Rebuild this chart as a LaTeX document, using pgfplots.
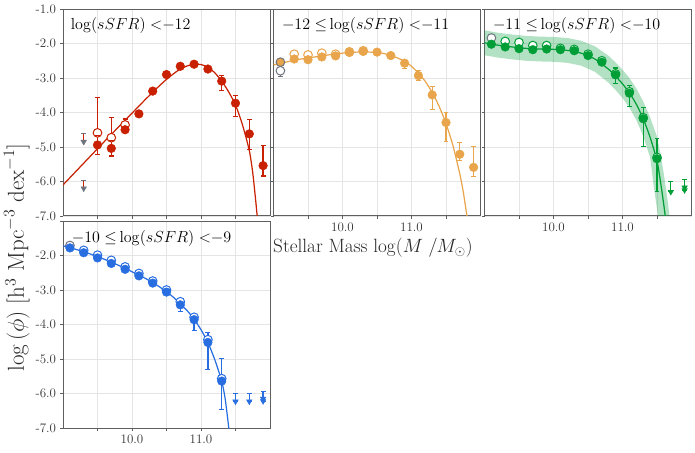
\documentclass[border=0pt]{standalone}
\usepackage{pgfplots}
\usepackage{pgfplotstable}
\pgfplotsset{compat=1.18}

\definecolor{redc}{RGB}{200,32,0}
\definecolor{orac}{RGB}{232,165,75}
\definecolor{grnc}{RGB}{0,158,55}
\definecolor{bluc}{RGB}{40,110,225}
\definecolor{gryc}{RGB}{110,115,125}
\definecolor{framec}{RGB}{95,95,95}

% ---------------- data: points ----------------
\pgfplotstableread[row sep=\\]{
x y\\
9.5 -4.94\\ 9.7 -5.04\\ 9.9 -4.50\\ 10.1 -4.04\\ 10.3 -3.38\\ 10.5 -2.90\\ 10.7 -2.66\\
10.9 -2.60\\ 11.1 -2.74\\ 11.3 -3.09\\ 11.5 -3.73\\ 11.7 -4.62\\ 11.9 -5.54\\
}\redF
\pgfplotstableread[row sep=\\]{
x y\\
9.5 -4.59\\ 9.7 -4.73\\ 9.9 -4.36\\
}\redO
% error bars: low and high end of each bar, bars separated by nan
\pgfplotstableread[row sep=\\]{
x y\\
9.5 -4.89\\ 9.5 -3.57\\ 9.5 nan\\
9.7 -4.98\\ 9.7 -4.15\\ 9.7 nan\\
9.9 -4.46\\ 9.9 -4.19\\ 9.9 nan\\
9.5 -5.21\\ 9.5 -4.67\\ 9.5 nan\\
9.7 -5.26\\ 9.7 -4.82\\ 9.7 nan\\
9.9 -4.58\\ 9.9 -4.42\\ 9.9 nan\\
11.3 -3.36\\ 11.3 -2.94\\ 11.3 nan\\
11.5 -4.12\\ 11.5 -3.51\\ 11.5 nan\\
11.7 -5.07\\ 11.7 -4.21\\ 11.7 nan\\
11.9 -5.84\\ 11.9 -4.96\\
}\redE
\pgfplotstableread[row sep=\\]{
x y\\
9.3 -4.85\\ 9.3 -4.60\\ 9.3 nan\\ 9.3 -6.20\\ 9.3 -5.98\\
}\redLs
\pgfplotstableread[row sep=\\]{
x y\\
9.3 -4.60\\ 9.3 -5.98\\
}\redLc
\pgfplotstableread[row sep=\\]{
x y\\
9.3 -4.85\\ 9.3 -6.20\\
}\redL
\pgfplotstableread[row sep=\\]{
x y\\
9.0 -6.10\\ 9.2 -5.68\\ 9.4 -5.26\\ 9.6 -4.84\\ 9.8 -4.43\\ 10.0 -4.02\\
10.2 -3.61\\ 10.4 -3.22\\ 10.5 -3.04\\ 10.6 -2.88\\ 10.7 -2.74\\ 10.8 -2.65\\
10.9 -2.60\\ 11.0 -2.61\\ 11.1 -2.69\\ 11.2 -2.85\\ 11.3 -3.09\\ 11.4 -3.40\\
11.5 -3.78\\ 11.6 -4.35\\ 11.7 -5.10\\ 11.75 -5.75\\ 11.8 -6.70\\ 11.85 -7.80\\
}\redC

\pgfplotstableread[row sep=\\]{
x y\\
9.3 -2.45\\ 9.5 -2.47\\ 9.7 -2.39\\ 9.9 -2.36\\ 10.1 -2.26\\ 10.3 -2.23\\ 10.5 -2.25\\
10.7 -2.35\\ 10.9 -2.57\\ 11.1 -2.93\\ 11.3 -3.49\\ 11.5 -4.29\\ 11.7 -5.21\\ 11.9 -5.59\\
}\oraF
\pgfplotstableread[row sep=\\]{
x y\\
9.3 -2.31\\ 9.5 -2.33\\ 9.7 -2.28\\ 9.9 -2.31\\ 10.1 -2.24\\ 10.3 -2.21\\
}\oraO
\pgfplotstableread[row sep=\\]{
x y\\
10.9 -2.72\\ 10.9 -2.50\\ 10.9 nan\\
11.1 -3.08\\ 11.1 -2.78\\ 11.1 nan\\
11.3 -3.92\\ 11.3 -3.25\\ 11.3 nan\\
11.5 -4.84\\ 11.5 -4.00\\ 11.5 nan\\
11.7 -5.38\\ 11.7 -4.87\\ 11.7 nan\\
11.9 -5.86\\ 11.9 -4.99\\
}\oraE
\pgfplotstableread[row sep=\\]{
x y\\
9.1 -2.96\\ 9.1 -2.79\\
}\oraGE
\pgfplotstableread[row sep=\\]{
x y\\
9.0 -2.62\\ 9.2 -2.53\\ 9.4 -2.45\\ 9.6 -2.39\\ 9.8 -2.33\\ 10.0 -2.28\\
10.2 -2.25\\ 10.4 -2.25\\ 10.6 -2.29\\ 10.8 -2.42\\ 10.9 -2.52\\ 11.0 -2.66\\
11.1 -2.86\\ 11.2 -3.10\\ 11.3 -3.42\\ 11.4 -3.82\\ 11.5 -4.32\\ 11.6 -4.95\\
11.7 -5.78\\ 11.75 -6.30\\ 11.8 -6.95\\ 11.85 -7.60\\
}\oraC

\pgfplotstableread[row sep=\\]{
x y\\
9.1 -2.02\\ 9.3 -2.10\\ 9.5 -2.15\\ 9.7 -2.18\\ 9.9 -2.16\\ 10.1 -2.18\\ 10.3 -2.21\\
10.5 -2.35\\ 10.7 -2.54\\ 10.9 -2.91\\ 11.1 -3.44\\ 11.3 -4.18\\ 11.5 -5.34\\
}\grnF
\pgfplotstableread[row sep=\\]{
x y\\
9.3 -1.94\\ 9.5 -1.97\\ 9.7 -2.06\\ 9.9 -2.06\\ 10.1 -2.14\\ 10.3 -2.17\\
10.5 -2.31\\ 10.7 -2.50\\ 10.9 -2.88\\ 11.1 -3.40\\ 11.3 -4.15\\ 11.5 -5.30\\
}\grnO
\pgfplotstableread[row sep=\\]{
x y\\
10.7 -2.62\\ 10.7 -2.46\\ 10.7 nan\\
10.9 -3.17\\ 10.9 -2.71\\ 10.9 nan\\
11.1 -3.83\\ 11.1 -3.23\\ 11.1 nan\\
11.3 -4.99\\ 11.3 -3.85\\ 11.3 nan\\
11.5 -6.28\\ 11.5 -4.75\\ 11.5 nan\\
11.7 -6.30\\ 11.7 -6.00\\ 11.7 nan\\
11.9 -6.25\\ 11.9 -5.93\\
}\grnE
\pgfplotstableread[row sep=\\]{
x y\\
11.7 -6.30\\ 11.9 -6.25\\ 11.9 -6.17\\
}\grnL
\pgfplotstableread[row sep=\\]{
x y\\
9.0 -1.98\\ 9.2 -2.05\\ 9.4 -2.10\\ 9.6 -2.14\\ 9.8 -2.16\\ 10.0 -2.17\\
10.2 -2.20\\ 10.4 -2.28\\ 10.6 -2.45\\ 10.8 -2.75\\ 10.9 -2.95\\ 11.0 -3.17\\
11.1 -3.43\\ 11.2 -3.76\\ 11.3 -4.18\\ 11.4 -4.72\\ 11.5 -5.40\\ 11.55 -6.00\\
11.6 -6.70\\ 11.65 -7.50\\ 11.7 -8.40\\
}\grnC
% band outline: upper edge left to right, then lower edge right to left
\pgfplotstableread[row sep=\\]{
x y\\
9.0 -1.62\\ 9.2 -1.69\\ 9.4 -1.74\\ 9.6 -1.78\\ 9.8 -1.80\\ 10.0 -1.81\\
10.2 -1.84\\ 10.4 -1.92\\ 10.6 -2.08\\ 10.8 -2.36\\ 10.9 -2.55\\ 11.0 -2.76\\
11.1 -3.00\\ 11.2 -3.30\\ 11.3 -3.68\\ 11.4 -4.14\\ 11.5 -4.70\\ 11.55 -5.20\\
11.6 -5.80\\ 11.65 -6.50\\ 11.7 -7.30\\ 11.75 -8.20\\
11.6 -8.20\\ 11.55 -7.60\\ 11.5 -6.80\\ 11.45 -6.10\\ 11.4 -5.30\\ 11.3 -4.68\\
11.2 -4.22\\ 11.1 -3.86\\ 11.0 -3.58\\ 10.9 -3.35\\ 10.8 -3.14\\ 10.6 -2.82\\
10.4 -2.64\\ 10.2 -2.56\\ 10.0 -2.53\\ 9.8 -2.52\\ 9.6 -2.50\\ 9.4 -2.46\\
9.2 -2.41\\ 9.0 -2.34\\
}\grnB

\pgfplotstableread[row sep=\\]{
x y\\
9.1 -1.78\\ 9.3 -1.92\\ 9.5 -2.07\\ 9.7 -2.23\\ 9.9 -2.40\\ 10.1 -2.59\\
10.3 -2.80\\ 10.5 -3.06\\ 10.7 -3.43\\ 10.9 -3.86\\ 11.1 -4.52\\ 11.3 -5.64\\
}\bluF
\pgfplotstableread[row sep=\\]{
x y\\
9.3 -1.85\\ 9.5 -1.99\\ 9.7 -2.14\\ 9.9 -2.33\\ 10.1 -2.52\\ 10.3 -2.74\\
10.5 -3.00\\ 10.7 -3.34\\ 10.9 -3.79\\ 11.1 -4.44\\ 11.3 -5.57\\
}\bluO
\pgfplotstableread[row sep=\\]{
x y\\
10.7 -3.62\\ 10.7 -3.38\\ 10.7 nan\\
10.9 -4.17\\ 10.9 -3.81\\ 10.9 nan\\
11.1 -5.30\\ 11.1 -4.22\\ 11.1 nan\\
11.3 -6.47\\ 11.3 -4.99\\ 11.3 nan\\
11.5 -6.23\\ 11.5 -5.99\\ 11.5 nan\\
11.7 -6.23\\ 11.7 -5.99\\ 11.7 nan\\
11.9 -6.22\\ 11.9 -5.95\\
}\bluE
\pgfplotstableread[row sep=\\]{
x y\\
11.5 -6.23\\ 11.7 -6.23\\ 11.9 -6.22\\ 11.9 -6.15\\
}\bluL
\pgfplotstableread[row sep=\\]{
x y\\
9.0 -1.72\\ 9.2 -1.83\\ 9.4 -1.96\\ 9.6 -2.11\\ 9.8 -2.28\\ 10.0 -2.47\\
10.2 -2.67\\ 10.4 -2.91\\ 10.6 -3.21\\ 10.8 -3.60\\ 10.9 -3.85\\ 11.0 -4.15\\
11.1 -4.52\\ 11.2 -5.02\\ 11.3 -5.64\\ 11.35 -6.15\\ 11.4 -6.95\\ 11.45 -7.80\\
}\bluC

\pgfplotsset{
  panel/.style={
    scale only axis, width=186.3pt, height=186.3pt,
    anchor=south west,
    xmin=9, xmax=12, ymin=-7, ymax=-1,
    xtick={9.5,10,10.5,11,11.5},
    xticklabels={,10.0,,11.0,},
    ytick={-7,-6,-5,-4,-3,-2,-1},
    yticklabels={-7.0,-6.0,-5.0,-4.0,-3.0,-2.0,-1.0},
    grid=major,
    grid style={color=black!10, line width=0.75pt},
    axis line style={draw=framec, line width=0.9pt},
    tick align=outside, major tick length=2.7pt,
    tick style={color=framec, line width=0.7pt},
    xtick pos=bottom, ytick pos=left,
    tick label style={font=\fontsize{11.7}{13}\selectfont, text=black!80},
    unbounded coords=jump,
  },
  fmark/.style={only marks, mark=*, mark size=3.9pt, color=#1,
     mark options={draw=#1, fill=#1}},
  omark/.style={only marks, mark=*, mark size=3.9pt, color=#1,
     mark options={draw=#1, fill=white, line width=0.9pt}},
  lmark/.style={only marks, mark=triangle*, mark size=2.9pt, color=#1,
     mark options={rotate=180, draw=#1, fill=#1}},
  ebar/.style={color=#1, draw=#1, line width=1.1pt, mark=-, mark size=2.2pt,
     mark options={solid, line width=1pt, draw=#1}},
  curve/.style={no marks, smooth, tension=0.4, line width=1.1pt, color=#1, draw=#1},
}
\tikzset{ttl/.style={anchor=west, font=\fontsize{14.4}{16}\selectfont, inner sep=0pt}}

\begin{document}
\begin{tikzpicture}
\useasboundingbox (0pt,0pt) rectangle (625.5pt,406.8pt);

% ---------- panel 1 ----------
\begin{axis}[panel, at={(56.7pt,212.4pt)}, xticklabels={}]
\addplot[curve=redc] table[x=x,y=y] {\redC};
\addplot[omark=redc] table[x=x,y=y] {\redO};
\addplot[ebar=redc] table[x=x,y=y] {\redE};
\addplot[fmark=redc] table[x=x,y=y] {\redF};
\addplot[color=redc, draw=redc, line width=1.1pt, no marks] table[x=x,y=y] {\redLs};
\addplot[only marks, mark=-, mark size=2.2pt, color=gryc, mark options={line width=1pt, draw=gryc}] table[x=x,y=y] {\redLc};
\addplot[lmark=gryc] table[x=x,y=y] {\redL};
\node[ttl] at (rel axis cs:0.037,0.92) {$\log(sSFR)\;{<}{-12}$};
\end{axis}

% ---------- panel 2 ----------
\begin{axis}[panel, at={(246.15pt,212.4pt)}, yticklabels={}]
\addplot[curve=orac] table[x=x,y=y] {\oraC};
\addplot[omark=orac] table[x=x,y=y] {\oraO};
\addplot[ebar=gryc] table[x=x,y=y] {\oraGE};
\addplot[omark=gryc] coordinates {(9.1,-2.79)};
\addplot[ebar=orac] table[x=x,y=y] {\oraE};
\addplot[fmark=orac] table[x=x,y=y] {\oraF};
\addplot[only marks, mark=*, mark size=3.9pt, mark options={draw=gryc, fill=orac, line width=0.9pt}] coordinates {(9.1,-2.54)};
\node[ttl] at (rel axis cs:0.04,0.92) {$-12\;{\leq}\log(sSFR)\;{<}{-11}$};
\end{axis}

% ---------- panel 3 ----------
\begin{axis}[panel, at={(436.05pt,212.4pt)}, yticklabels={}]
\addplot[fill=grnc, fill opacity=0.3, draw=none] table[x=x,y=y] {\grnB};
\addplot[curve=grnc] table[x=x,y=y] {\grnC};
\addplot[omark=gryc] coordinates {(9.1,-1.84)};
\addplot[omark=grnc] table[x=x,y=y] {\grnO};
\addplot[ebar=grnc] table[x=x,y=y] {\grnE};
\addplot[fmark=grnc] table[x=x,y=y] {\grnF};
\addplot[lmark=grnc] table[x=x,y=y] {\grnL};
\node[ttl] at (rel axis cs:0.04,0.92) {$-11\;{\leq}\log(sSFR)\;{<}{-10}$};
\end{axis}

% ---------- panel 4 ----------
\begin{axis}[panel, at={(56.7pt,21.6pt)}, yticklabels={-7.0,-6.0,-5.0,-4.0,-3.0,-2.0,}]
\addplot[curve=bluc] table[x=x,y=y] {\bluC};
\addplot[omark=gryc] coordinates {(9.1,-1.71)};
\addplot[omark=bluc] table[x=x,y=y] {\bluO};
\addplot[ebar=bluc] table[x=x,y=y] {\bluE};
\addplot[fmark=bluc] table[x=x,y=y] {\bluF};
\addplot[lmark=bluc] table[x=x,y=y] {\bluL};
\node[ttl] at (rel axis cs:0.042,0.915) {$-10\;{\leq}\log(sSFR)\;{<}{-9}$};
\end{axis}

% ---------- labels ----------
\node[rotate=90, font=\fontsize{20.74}{23}\selectfont, text=black!85] at (15pt,175pt)
  {$\log\,(\phi)\;[\mathrm{h}^3\ \mathrm{Mpc}^{-3}\ \mathrm{dex}^{-1}]$};
\node[anchor=west, font=\fontsize{17.28}{19}\selectfont, text=black!85, inner sep=0pt] at (245.7pt,183.6pt)
  {Stellar Mass $\log(M\;/M_{\odot})$};
\end{tikzpicture}
\end{document}
